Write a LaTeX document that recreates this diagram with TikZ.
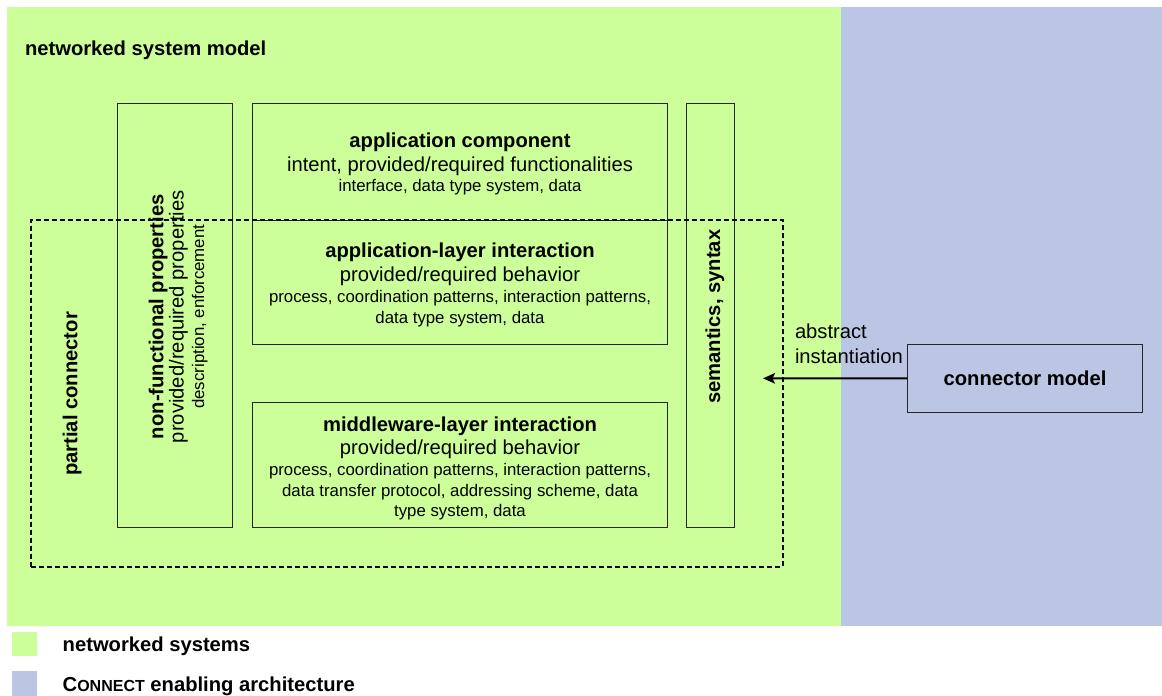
\documentclass[tikz,border=0pt]{standalone}
\usepackage{fontspec}
\setmainfont{Liberation Sans}
\usetikzlibrary{arrows.meta}
\definecolor{nsgreen}{HTML}{CCFF99}
\definecolor{cablue}{HTML}{BAC6E4}
\newcommand\fbig{\fontsize{20.2}{24}\selectfont}
\newcommand\fsml{\fontsize{16.8}{20}\selectfont}
\newcommand\fsc{\fontsize{16}{20}\selectfont}
\begin{document}
\begin{tikzpicture}[x=1pt,y=-1pt,
  bg/.style={inner sep=0pt, outer sep=0pt, draw=none, anchor=north west},
  box/.style={draw=black!85, line width=1pt, inner sep=0pt, outer sep=0pt, anchor=north west},
  dbox/.style={draw=black, line width=1.8pt, dash pattern=on 5pt off 3pt, inner sep=0pt, outer sep=0pt, anchor=north west},
  txt/.style={inner sep=0pt, outer sep=0pt, anchor=base},
  ttl/.style={txt, font=\fbig\bfseries},
  big/.style={txt, font=\fbig},
  sml/.style={txt, font=\fsml},
  vert/.style={rotate=90}
]
\useasboundingbox (0,0) rectangle (1162,696);
% backgrounds
\node[bg, fill=nsgreen, minimum width=834pt, minimum height=618.7pt] (green) at (7,7) {};
\node[bg, fill=cablue, minimum width=321pt, minimum height=618.7pt] (blue) at (841,7) {};
% boxes
\node[box, minimum width=115.4pt, minimum height=424.4pt] (nfp) at (117.3,103.3) {};
\node[box, minimum width=415.7pt, minimum height=116.7pt] (appc) at (252,103.3) {};
\node[box, minimum width=415.7pt, minimum height=124.3pt] (appl) at (252,220) {};
\node[box, minimum width=415.7pt, minimum height=125pt] (mwl) at (252,402.7) {};
\node[box, minimum width=48.7pt, minimum height=424.4pt] (sem) at (686,103.3) {};
\node[dbox, minimum width=751.7pt, minimum height=346.7pt] (pc) at (31,220) {};
\node[box, minimum width=234.6pt, minimum height=68.7pt] (cm) at (907.7,344) {};
% title
\node[ttl, anchor=base west] (title) at (25,55) {networked system model};
% application component
\node[ttl] (t1) at (460,147.3) {application component};
\node[big] (t2) at (460,171) {intent, provided/required functionalities};
\node[sml] (t3) at (460,191.7) {interface, data type system, data};
% application-layer interaction
\node[ttl] (t4) at (460,257.7) {application-layer interaction};
\node[big] (t5) at (460,281.7) {provided/required behavior};
\node[sml] (t6) at (460,302.3) {process, coordination patterns, interaction patterns,};
\node[sml] (t7) at (460,323.3) {data type system, data};
% middleware-layer interaction
\node[ttl] (t8) at (460,431.5) {middleware-layer interaction};
\node[big] (t9) at (460,454.3) {provided/required behavior};
\node[sml] (t10) at (460,475.5) {process, coordination patterns, interaction patterns,};
\node[sml] (t11) at (460,496) {data transfer protocol, addressing scheme, data};
\node[sml] (t12) at (460,516.7) {type system, data};
% vertical texts
\node[ttl, vert] (pct) at (77.3,394) {partial connector};
\node[ttl, vert] (nf1) at (163.3,316.7) {non-functional properties};
\node[big, vert] (nf2) at (183.5,316.7) {provided/required properties};
\node[sml, vert] (nf3) at (204,316.7) {description, enforcement};
\node[ttl, vert] (semt) at (720,316.7) {semantics, syntax};
% connector model
\node[ttl] (cmt) at (1025,385.7) {connector model};
\node[big, anchor=base west] (ab1) at (795,338.3) {abstract};
\node[big, anchor=base west] (ab2) at (795,363.3) {instantiation};
\coordinate (tip) at (763,378.35);
\draw[line width=2pt, -{Stealth[length=12pt,width=10.5pt,inset=2.5pt]}] (cm.west) -- (tip);
% legend
\node[bg, fill=nsgreen, minimum width=25pt, minimum height=24pt] (lg1) at (12,632) {};
\node[bg, fill=cablue, minimum width=25pt, minimum height=25pt] (lg2) at (12,671) {};
\node[ttl, anchor=base west] (lt1) at (62.7,651) {networked systems};
\node[ttl, anchor=base west] (lt2) at (62.7,691) {C{\fsc ONNECT} enabling architecture};
\end{tikzpicture}
\end{document}
